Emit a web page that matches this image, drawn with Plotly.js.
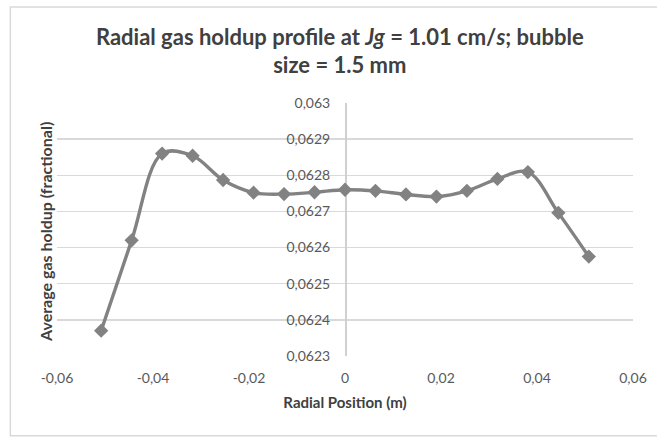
<!DOCTYPE html>
<html>
<head>
<meta charset="utf-8">
<script src="https://cdn.plot.ly/plotly-3.0.1.min.js"></script>
<style>
  html, body { margin: 0; padding: 0; background: #ffffff; }
  #chart { width: 657px; height: 437px; }
</style>
</head>
<body>
<div id="chart"></div>
<script>
// Radial positions (m)
const radialPosition = [-0.0508, -0.04445, -0.0381, -0.03175, -0.0254, -0.01905, -0.0127, -0.00635, 0,
                        0.00635, 0.0127, 0.01905, 0.0254, 0.03175, 0.0381, 0.04445, 0.0508];
// Average gas holdup (fractional)
const gasHoldup = [0.06237, 0.06262, 0.06286, 0.062854, 0.062787, 0.062752, 0.062748, 0.062753, 0.06276,
                   0.062757, 0.062747, 0.062741, 0.062757, 0.06279, 0.062809, 0.062696, 0.062575];

const xTickVals = [-0.06, -0.04, -0.02, 0, 0.02, 0.04, 0.06];
const xTickText = ['-0,06', '-0,04', '-0,02', '0', '0,02', '0,04', '0,06'];
const yTickVals = [0.0623, 0.0624, 0.0625, 0.0626, 0.0627, 0.0628, 0.0629, 0.063];
const yTickText = ['0,0623', '0,0624', '0,0625', '0,0626', '0,0627', '0,0628', '0,0629', '0,063'];

const FONT = 'Lato, "Open Sans", sans-serif';

const trace = {
  x: radialPosition,
  y: gasHoldup,
  type: 'scatter',
  mode: 'lines+markers',
  line: { color: '#828282', width: 3.4, shape: 'spline', smoothing: 1 },
  marker: { symbol: 'diamond', size: 11, color: '#828282' },
  hoverinfo: 'x+y'
};

const layout = {
  width: 657,
  height: 437,
  margin: { l: 57, r: 24, t: 103, b: 81 },
  paper_bgcolor: '#ffffff',
  plot_bgcolor: '#ffffff',
  showlegend: false,
  separators: ', ',
  font: { family: FONT, color: '#595959', size: 14 },
  title: {
    text: 'Radial gas holdup profile at <i>Jg</i> = 1.01 cm/<i>s</i>; bubble<br>size = 1.5 mm',
    font: { family: FONT, size: 22, color: '#404040', weight: 'bold' },
    x: 0.491, xref: 'paper', xanchor: 'center',
    y: 0.898, yref: 'container', yanchor: 'middle'
  },
  xaxis: {
    range: [-0.06, 0.06],
    tickvals: xTickVals,
    ticktext: xTickText,
    showgrid: false,
    zeroline: false,
    showline: false,
    ticks: '',
    tickfont: { family: FONT, size: 14, color: '#595959' },
    ticklabelstandoff: 12,
    title: {
      text: 'Radial Position (m)',
      font: { family: FONT, size: 15, color: '#404040', weight: 'bold' },
      standoff: 12
    },
    fixedrange: true
  },
  yaxis: {
    range: [0.0623, 0.063],
    tickvals: yTickVals,
    ticktext: yTickText,
    anchor: 'free',
    position: 0.5,
    showgrid: true,
    gridcolor: '#d9d9d9',
    gridwidth: 1.5,
    zeroline: false,
    showline: true,
    linecolor: '#d0d0d0',
    linewidth: 1.5,
    ticks: 'outside',
    ticklen: 12,
    tickcolor: 'rgba(0,0,0,0)',
    tickfont: { family: FONT, size: 14, color: '#595959' },
    layer: 'below traces',
    fixedrange: true
  },
  annotations: [{
    text: 'Average gas holdup (fractional)',
    xref: 'paper', yref: 'paper',
    x: -0.021, y: 0.49,
    xanchor: 'center', yanchor: 'middle',
    textangle: -90,
    showarrow: false,
    font: { family: FONT, size: 16, color: '#404040', weight: 'bold' }
  }],
  shapes: [{
    type: 'rect', xref: 'paper', yref: 'paper',
    x0: -0.081, x1: 1.06, y0: -0.315, y1: 1.379,
    line: { color: '#d9d9d9', width: 1.5 },
    fillcolor: 'rgba(0,0,0,0)',
    layer: 'below'
  }]
};

Plotly.newPlot('chart', [trace], layout, { displayModeBar: false, staticPlot: true });
</script>
</body>
</html>
